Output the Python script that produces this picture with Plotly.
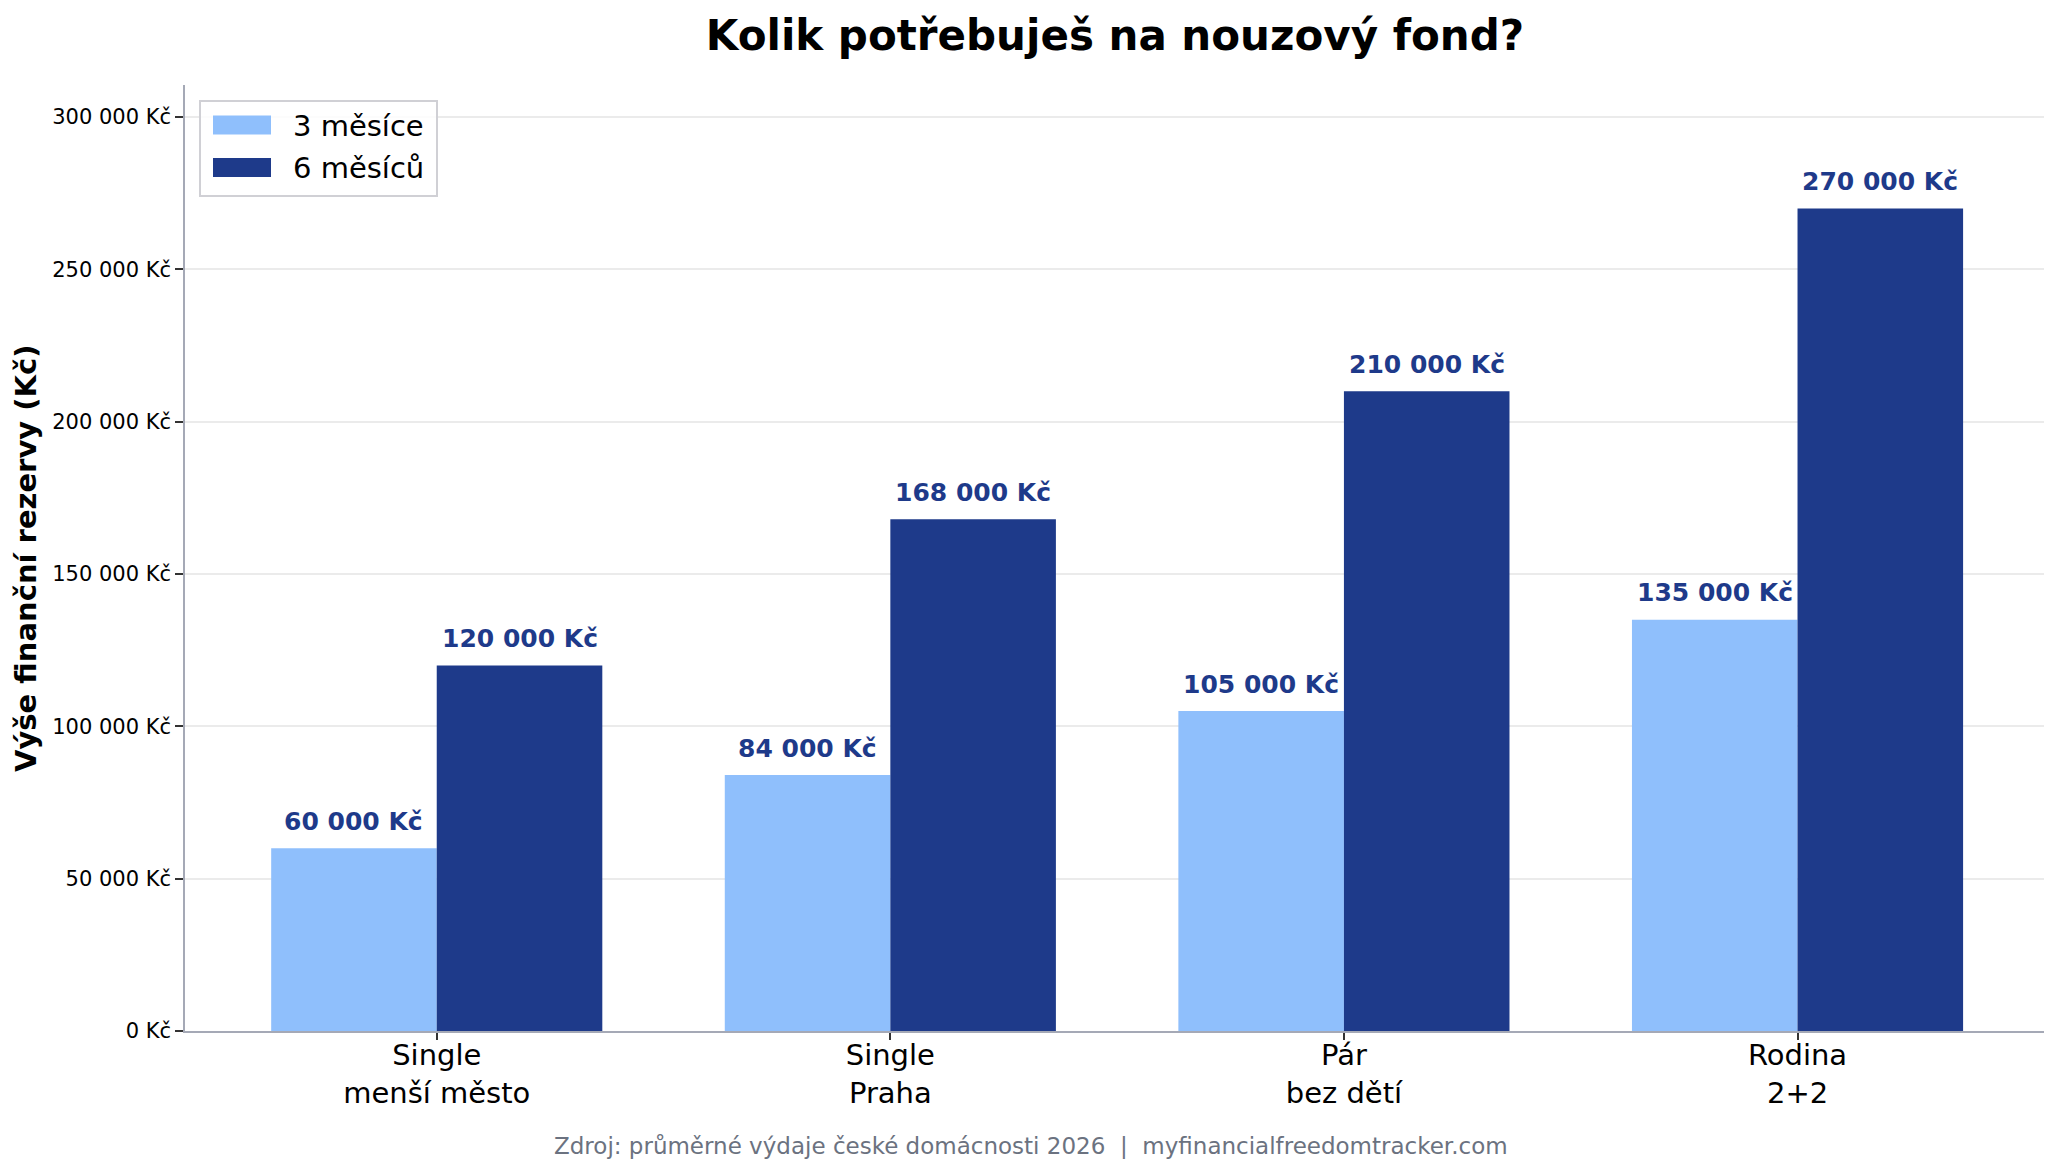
import plotly.graph_objects as go

categories = ["Single<br>menší město", "Single<br>Praha", "Pár<br>bez dětí", "Rodina<br>2+2"]
series_names = ["3 měsíce", "6 měsíců"]
values_3m = [60000, 84000, 105000, 135000]
values_6m = [120000, 168000, 210000, 270000]
y_ticks = [0, 50000, 100000, 150000, 200000, 250000, 300000]

colors = ["#8fbffc", "#1e3a8a"]
label_color = "#1e3a8a"
FONT = "DejaVu Sans"
BAR_W = 0.365

# figure geometry (page has an 8px body margin)
W, H = 2044, 1159
ML, MR, MT, MB = 177, 5, 77, 136
PW, PH = W - ML - MR, H - MT - MB


def px_x(x):  # figure pixel -> paper
    return (x - ML) / PW


def px_y(y):
    return (H - MB - y) / PH


def fmt(v):
    return f"{v:,}".replace(",", " ") + " Kč"


idx = list(range(len(categories)))
offsets = [-BAR_W / 2, BAR_W / 2]

fig = go.Figure()
for name, vals, col, off in zip(series_names, [values_3m, values_6m], colors, offsets):
    xs = [i + off for i in idx]
    fig.add_trace(go.Bar(
        x=xs, y=vals, name=name, width=BAR_W,
        marker=dict(color=col, line=dict(width=0)),
        showlegend=False,
    ))
    for xv, yv in zip(xs, vals):
        fig.add_annotation(
            x=xv, y=yv, xref="x", yref="y", text=f"<b>{fmt(yv)}</b>",
            showarrow=False, yanchor="middle", xanchor="center", yshift=27,
            font=dict(family=FONT, size=25, color=label_color),
        )

fig.update_layout(
    width=W, height=H,
    paper_bgcolor="white", plot_bgcolor="white",
    barmode="overlay",
    margin=dict(l=ML, r=MR, t=MT, b=MB),
    font=dict(family=FONT, color="black"),
    title=dict(text="<b>Kolik potřebuješ na nouzový fond?</b>",
               x=1107 / W, xanchor="center", y=1 - 27.5 / H, yanchor="middle",
               font=dict(family=FONT, size=42, color="black")),
    showlegend=False,
)

fig.update_xaxes(
    range=[-0.555, 3.55],
    tickvals=idx, ticktext=categories,
    showline=True, linecolor="#a5a9b6", linewidth=2,
    ticks="outside", ticklen=7, tickcolor="#333333", tickwidth=1.5,
    tickfont=dict(family=FONT, size=29, color="black"),
    ticklabelstandoff=-10,
    showgrid=False, zeroline=False,
)
fig.update_yaxes(
    range=[0, 310500],
    tickvals=y_ticks, ticktext=[fmt(v) for v in y_ticks],
    showline=True, linecolor="#a5a9b6", linewidth=1.5,
    ticks="outside", ticklen=8, tickcolor="#333333", tickwidth=1.5,
    tickfont=dict(family=FONT, size=21, color="black"),
    showgrid=True, gridcolor="#ebebeb", gridwidth=1.5,
    zeroline=False,
)

# y axis title
fig.add_annotation(
    text="<b>Výše finanční rezervy (Kč)</b>", textangle=-90,
    xref="paper", yref="paper", x=px_x(18), y=0.5,
    xanchor="center", yanchor="middle", showarrow=False,
    font=dict(family=FONT, size=29, color="black"),
)

# legend (drawn manually to get matplotlib-style wide swatches)
fig.add_shape(type="rect", xref="paper", yref="paper",
              x0=px_x(192), x1=px_x(429), y0=px_y(93), y1=px_y(188),
              line=dict(color="#d0d0d5", width=2), fillcolor="rgba(255,255,255,0.85)",
              layer="above")
for k, (name, col) in enumerate(zip(series_names, colors)):
    yc = 117 + k * 42.5
    fig.add_shape(type="rect", xref="paper", yref="paper",
                  x0=px_x(205), x1=px_x(263), y0=px_y(yc - 9.5), y1=px_y(yc + 9.5),
                  line=dict(width=0), fillcolor=col, layer="above")
    fig.add_annotation(text=name, xref="paper", yref="paper",
                       x=px_x(283), y=px_y(yc + 1), xanchor="left", yanchor="middle",
                       showarrow=False, font=dict(family=FONT, size=29, color="black"))

fig.add_annotation(
    text="Zdroj: průměrné výdaje české domácnosti 2026  |  myfinancialfreedomtracker.com",
    xref="paper", yref="paper", x=px_x(1023), y=px_y(1138),
    xanchor="center", yanchor="middle", showarrow=False,
    font=dict(family=FONT, size=23, color="#6b7280"),
)

fig.write_html("out.html")
